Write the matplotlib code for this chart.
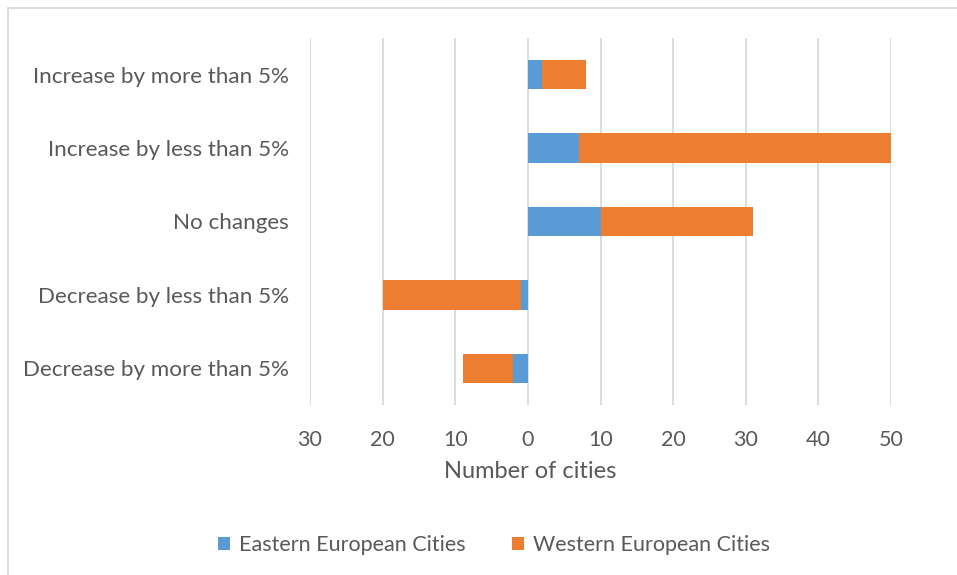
import numpy as np
import matplotlib.pyplot as plt
from matplotlib.ticker import FuncFormatter
from matplotlib.patches import Rectangle

# categories listed bottom to top
categories = ["Decrease by more than 5%", "Decrease by less than 5%", "No changes",
              "Increase by less than 5%", "Increase by more than 5%"]
eastern = [-2, -1, 10, 7, 2]
western = [-7, -19, 21, 43, 6]

blue = "#5b9bd5"
orange = "#ed7d31"
grey_text = "#595959"

plt.rcParams['font.family'] = ['Lato', 'DejaVu Sans']

fig = plt.figure(figsize=(9.57, 5.75), dpi=100)
ax = fig.add_axes([310 / 957, 170 / 575, 581 / 957, 367 / 575])

y = np.arange(len(categories))
ax.barh(y, eastern, height=0.4, color=blue, label="Eastern European Cities", zorder=3)
ax.barh(y, western, left=eastern, height=0.4, color=orange,
        label="Western European Cities", zorder=3)

ax.set_xlim(-30, 50)
ax.set_ylim(-0.5, 4.5)
ax.set_xticks(np.arange(-30, 51, 10))
ax.xaxis.set_major_formatter(FuncFormatter(lambda v, p: f"{abs(int(v))}"))
ax.set_yticks(y)
ax.set_yticklabels(categories)
ax.grid(axis="x", color="#d9d9d9", linewidth=1.3, zorder=0)
for s in ax.spines.values():
    s.set_visible(False)
ax.tick_params(length=0, labelsize=15.5, colors=grey_text)
ax.tick_params(axis="x", pad=18)
ax.tick_params(axis="y", pad=15, labelsize=16.1)
ax.set_xlabel("Number of cities", fontsize=17, color=grey_text)
ax.xaxis.set_label_coords((530 - 310) / 581, -(472 - 405) / 367)
ax.xaxis.label.set_va("center")

leg = fig.legend(loc="center", bbox_to_anchor=(494 / 957, 1 - 545 / 575), ncol=2, frameon=False,
                 fontsize=15.5, handlelength=0.55, handleheight=0.55, columnspacing=2.2,
                 handletextpad=0.4)
for t in leg.get_texts():
    t.set_color(grey_text)

fig.patches.append(Rectangle((8 / 957, -0.1), 1.1, 1 - 8 / 575 + 0.1, transform=fig.transFigure,
                             fill=False, edgecolor="#d9d9d9", linewidth=1.3))

fig.savefig("out.png")
